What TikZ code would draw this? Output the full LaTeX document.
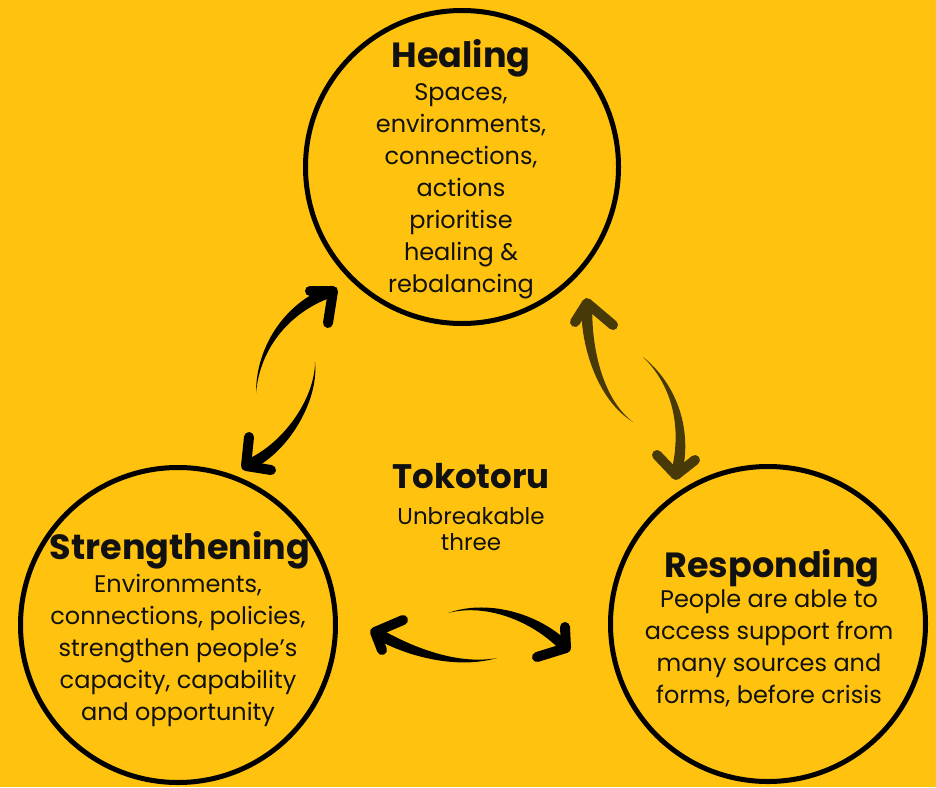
\documentclass[tikz,border=0pt]{standalone}
\usepackage{fontspec}
\setmainfont{Poppins}
\usetikzlibrary{calc}

\definecolor{gold}{HTML}{FFC20F}
\definecolor{umber}{HTML}{483A08}
\definecolor{ink}{HTML}{111111}

\tikzset{
  ring/.style={circle, draw=black, line width=5pt, fill=gold, minimum size=315pt, inner sep=0pt},
  headtxt/.style={font=\fontsize{35}{40}\selectfont\bfseries, anchor=base, inner sep=0pt, text=ink},
  bodytxt/.style={font=\fontsize{24}{32}\selectfont, anchor=base, inner sep=0pt, text=ink},
  midhead/.style={font=\fontsize{34}{38}\selectfont\bfseries, anchor=base, inner sep=0pt, text=ink},
  midtxt/.style={font=\fontsize{23}{26}\selectfont, anchor=base, inner sep=0pt, text=ink},
  barb/.style={line width=10pt, line cap=round, line join=round},
}

% brush-stroke half arrow: colour, tail, control 1, control 2, tip, barb a, barb b
\newcommand\inkarrow[7]{%
  \path ($(#5)!5.5pt!90:(#4)$) coordinate (ia) ($(#5)!5.5pt!-90:(#4)$) coordinate (ib)
        ($(#3)!2.5pt!-90:(#4)$) coordinate (ja) ($(#3)!2.5pt!90:(#4)$) coordinate (jb);
  \fill[#1] (#2) .. controls (ja) and ($(#4)+(ia)-(#5)$) .. (ia) -- (ib)
        .. controls ($(#4)+(ib)-(#5)$) and (jb) .. (#2) -- cycle;
  \draw[#1, barb] (#6) -- (#5) -- (#7);
}

\begin{document}
\begin{tikzpicture}[x=1pt, y=-1pt]
  \useasboundingbox (0,0) rectangle (936,787);
  \fill[gold] (0,0) rectangle (936,787);

  % the three circles
  \node[ring, minimum size=313pt] (heal) at (462,167) {};
  \node[ring] (strong) at (178,625) {};
  \node[ring] (resp) at (768,624) {};

  % Healing
  \node[headtxt] (healT) at (461,67) {Healing};
  \foreach \ln [count=\i from 0] in {{Spaces,},{environments,},{connections,},{actions},{prioritise},{healing \&},{rebalancing}}
    \node[bodytxt] (heal\i) at (461,100+32*\i) {\ln};

  % Strengthening
  \node[headtxt] (strongT) at (180,559) {Strengthening};
  \foreach \ln [count=\i from 0] in {{Environments,},{connections, policies,},{strengthen people’s},{capacity, capability},{and opportunity}}
    \node[bodytxt] (strong\i) at (178,592+32*\i) {\ln};

  % Responding
  \node[headtxt] (respT) at (772,577) {Responding};
  \foreach \ln [count=\i from 0] in {{People are able to},{access support from},{many sources and},{forms, before crisis}}
    \node[bodytxt] (resp\i) at (769,607+32*\i) {\ln};

  % centre label
  \node[midhead] (toko) at (471,488) {Tokotoru};
  \node[midtxt] (toko1) at (471,524) {Unbreakable};
  \node[midtxt] (toko2) at (471,550) {three};

  % Healing <-> Strengthening
  \inkarrow{black}{256,393}{258,345}{290,305}{333,291}{310,291}{328,323}
  \inkarrow{black}{315,362}{317,400}{285,450}{246,466}{249,437}{271,470}

  % Healing <-> Responding
  \inkarrow{umber}{633,422}{600,400}{585,345}{587,303}{575,322}{613,325}
  \inkarrow{umber}{643,357}{675,385}{688,430}{676,475}{657,455}{695,460}

  % Strengthening <-> Responding
  \inkarrow{black}{497,658}{455,668}{405,650}{375,632}{403,620}{382,650}
  \inkarrow{black}{448,613}{490,600}{540,620}{566,648}{537,657}{565,627}
\end{tikzpicture}
\end{document}
